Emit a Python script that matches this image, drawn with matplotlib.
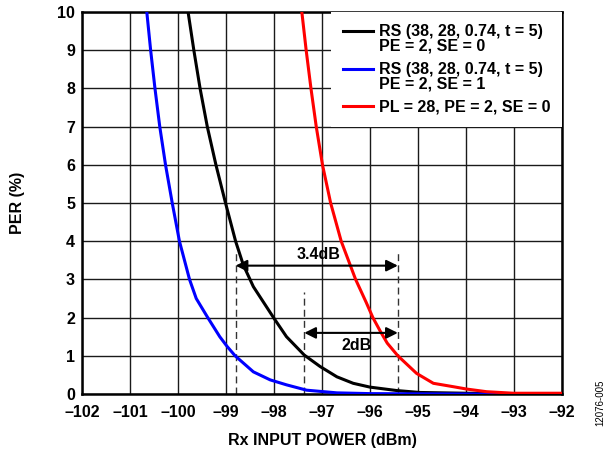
import matplotlib
matplotlib.use("Agg")
import matplotlib.pyplot as plt
import numpy as np
from matplotlib.legend_handler import HandlerLine2D

plt.rcParams['font.family'] = ['Liberation Sans', 'DejaVu Sans']

# Data
rs_se0_x = [-99.79, -99.67, -99.54, -99.39, -99.21, -99.01, -98.80, -98.64, -98.43, -98.01,
            -97.74, -97.37, -97.04, -96.69, -96.35, -96.0, -95.44, -94.96, -94.0, -93.0, -92.0]
rs_se0_y = [10, 9, 8, 7, 6, 5.0, 4.0, 3.38, 2.81, 2.0,
            1.50, 1.02, 0.72, 0.45, 0.28, 0.18, 0.09, 0.04, 0.02, 0.01, 0.01]

rs_se1_x = [-100.65, -100.57, -100.48, -100.38, -100.26, -100.12, -99.97, -99.76, -99.62, -99.38,
            -99.13, -98.98, -98.81, -98.43, -98.08, -97.74, -97.32, -96.69, -96.0, -94.0, -92.0]
rs_se1_y = [10, 9, 8, 7, 6, 5, 4, 3, 2.5, 2.0,
            1.5, 1.25, 1.0, 0.58, 0.37, 0.24, 0.10, 0.03, 0.01, 0.0, 0.0]

pl_x = [-97.42, -97.33, -97.23, -97.12, -96.99, -96.82, -96.60, -96.30, -96.08, -95.94,
        -95.78, -95.64, -95.42, -95.03, -94.68, -94.26, -93.99, -93.57, -93.01, -92.0]
pl_y = [10, 9, 8, 7, 6, 5, 4, 3, 2.4, 2.0,
        1.63, 1.33, 1.0, 0.54, 0.28, 0.19, 0.13, 0.06, 0.02, 0.02]

x_ticks = [-102, -101, -100, -99, -98, -97, -96, -95, -94, -93, -92]
x_ticklabels = ['\u2013102', '\u2013101', '\u2013100', '\u201399', '\u201398', '\u201397',
                '\u201396', '\u201395', '\u201394', '\u201393', '\u201392']
y_ticks = list(range(0, 11))

labels = ['RS (38, 28, 0.74, t = 5)\nPE = 2, SE = 0',
          'RS (38, 28, 0.74, t = 5)\nPE = 2, SE = 1',
          'PL = 28, PE = 2, SE = 0']

# annotation values
dash_x = [-98.80, -97.37, -95.42]
dash_top = [3.73, 2.68, 3.73]
arrow_spans = [(-98.80, -95.42, 3.36), (-97.37, -95.42, 1.6)]
arrow_texts = ['3.4dB', '2dB']
arrow_text_pos = [(-97.08, 3.64), (-96.28, 1.28)]

FS = 11.5


class TopLine(HandlerLine2D):
    def __init__(self, shift=0.0, **kw):
        super().__init__(**kw)
        self.shift = shift

    def create_artists(self, legend, orig_handle, xdescent, ydescent, width, height,
                       fontsize, trans):
        arts = super().create_artists(legend, orig_handle, xdescent, ydescent, width,
                                      height, fontsize, trans)
        for a in arts:
            a.set_ydata(np.asarray(a.get_ydata(), dtype=float) + self.shift)
        return arts


fig = plt.figure(figsize=(6.05, 4.49), dpi=100)
ax = fig.add_axes([82/605, 1-394/449, 480/605, 382/449])

ax.set_xlim(-102, -92)
ax.set_ylim(0, 10)
ax.set_xticks(x_ticks)
ax.set_xticklabels(x_ticklabels)
ax.set_yticks(y_ticks)
ax.tick_params(length=0, labelsize=FS)
ax.tick_params(axis='x', pad=8)
ax.tick_params(axis='y', pad=5)
for lab in ax.get_xticklabels() + ax.get_yticklabels():
    lab.set_fontweight('bold')
ax.grid(True, color='#1a1a1a', linewidth=1.0)
for s in ax.spines.values():
    s.set_linewidth(1.8)

l0, = ax.plot(rs_se0_x, rs_se0_y, color='black', lw=2.2, label=labels[0], zorder=3)
l1, = ax.plot(rs_se1_x, rs_se1_y, color='#0000ff', lw=2.2, label=labels[1], zorder=3)
l2, = ax.plot(pl_x, pl_y, color='#ff0000', lw=2.2, label=labels[2], zorder=3)

for xv, top in zip(dash_x, dash_top):
    ax.plot([xv, xv], [0, top], color='#333333', lw=1.0, dashes=(5, 3), zorder=2)

for (x0, x1, yv), txt, (tx, ty) in zip(arrow_spans, arrow_texts, arrow_text_pos):
    ax.annotate('', xy=(x0, yv), xytext=(x1, yv),
                arrowprops=dict(arrowstyle='<|-|>', color='black', lw=1.5,
                                mutation_scale=17, shrinkA=0, shrinkB=0), zorder=4)
    ax.text(tx, ty, txt, ha='center', va='center', fontsize=FS,
            fontweight='bold', zorder=4)

shift = 6.2
leg = ax.legend(loc='upper right', borderaxespad=0.0, frameon=True, fancybox=False,
                edgecolor='white', framealpha=1.0, handlelength=1.9,
                handletextpad=0.35, labelspacing=0.5, borderpad=0.75,
                prop={'weight': 'bold', 'size': FS},
                handler_map={l0: TopLine(shift), l1: TopLine(shift), l2: TopLine(0.0)})
leg.get_frame().set_linewidth(0)
for t in leg.get_texts():
    t.set_linespacing(1.0)
leg.set_zorder(5)

ax.set_xlabel('Rx INPUT POWER (dBm)', fontsize=FS, fontweight='bold', labelpad=9)
ax.set_ylabel('PER (%)', fontsize=FS, fontweight='bold', labelpad=23)

fig.text(600/605, 1-403/449, '12076-005', rotation=90, fontsize=7,
         ha='center', va='center')

fig.savefig('out.png', dpi=100)
